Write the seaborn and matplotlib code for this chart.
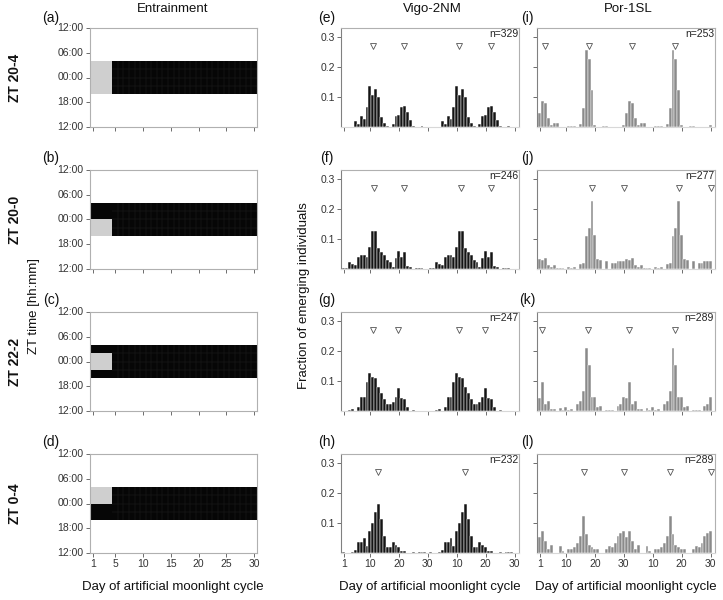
import numpy as np
import pandas as pd
import matplotlib.pyplot as plt
import seaborn as sns
from matplotlib.colors import ListedColormap

# entrainment rows (moonlight window, clock hours)
row_labels = ["ZT 20-4", "ZT 20-0", "ZT 22-2", "ZT 0-4"]
moon_start = [20, 20, 22, 0]
moon_end = [4, 0, 2, 4]
night_start, night_end = 20, 4
moon_days = 4
n_days = 30
time_ticks = ["12:00", "06:00", "00:00", "18:00", "12:00"]
day_ticks = [1, 5, 10, 15, 20, 25, 30]

# fraction of emerging individuals per day of the lunar cycle (days 1-30)
vigo_zt20_4 = [0, 0, 0, 0, 0.021, 0.011, 0.036, 0.028, 0.066, 0.136,
               0.106, 0.127, 0.100, 0.033, 0.015, 0.004, 0, 0.011, 0.036, 0.040,
               0.067, 0.071, 0.049, 0.024, 0.003, 0, 0, 0.003, 0, 0]
vigo_zt20_0 = [0.004, 0.004, 0.022, 0.015, 0.012, 0.040, 0.047, 0.047, 0.040, 0.073,
               0.127, 0.127, 0.070, 0.056, 0.045, 0.030, 0.024, 0.008, 0.036, 0.060,
               0.040, 0.055, 0.010, 0.008, 0, 0.004, 0.004, 0.004, 0, 0]
vigo_zt22_2 = [0, 0, 0.003, 0.006, 0, 0.012, 0.047, 0.047, 0.097, 0.128,
               0.113, 0.110, 0.080, 0.060, 0.040, 0.022, 0.025, 0.030, 0.047, 0.076,
               0.045, 0.040, 0.012, 0, 0.004, 0, 0, 0, 0, 0]
vigo_zt0_4 = [0.004, 0, 0, 0.003, 0.010, 0.038, 0.038, 0.051, 0.024, 0.075,
              0.100, 0.136, 0.162, 0.114, 0.058, 0.020, 0.020, 0.036, 0.027, 0.020,
              0.007, 0.007, 0, 0, 0.004, 0, 0.004, 0.004, 0.004, 0]
por_zt20_4 = [0.047, 0.088, 0.080, 0.030, 0.008, 0.013, 0.013, 0, 0, 0,
              0.004, 0.004, 0.004, 0, 0.011, 0.063, 0.256, 0.227, 0.122, 0.007,
              0, 0, 0.004, 0.004, 0, 0, 0, 0, 0, 0.006]
por_zt20_0 = [0.032, 0.030, 0.036, 0.013, 0.008, 0.013, 0.003, 0.002, 0.002, 0,
              0.006, 0.004, 0.006, 0, 0.018, 0.020, 0.111, 0.137, 0.228, 0.114,
              0.033, 0.031, 0, 0.025, 0, 0.020, 0.020, 0.025, 0.027, 0.025]
por_zt22_2 = [0.045, 0.098, 0.025, 0.034, 0.006, 0.006, 0, 0.010, 0.003, 0.012,
              0.004, 0.006, 0, 0.022, 0.034, 0.067, 0.210, 0.152, 0.047, 0.047,
              0.015, 0.018, 0, 0.003, 0.003, 0.003, 0, 0.018, 0.025, 0.047]
por_zt0_4 = [0.055, 0.074, 0.040, 0.012, 0.028, 0, 0, 0.022, 0.008, 0,
             0.012, 0.012, 0.020, 0.032, 0.057, 0.124, 0.062, 0.028, 0.020, 0.012,
             0.012, 0, 0, 0.012, 0.025, 0.020, 0.035, 0.057, 0.068, 0.075]

vigo_series = [vigo_zt20_4, vigo_zt20_0, vigo_zt22_2, vigo_zt0_4]
por_series = [por_zt20_4, por_zt20_0, por_zt22_2, por_zt0_4]
vigo_n = [329, 246, 247, 232]
por_n = [253, 277, 289, 289]
# expected emergence days (triangles), double plotted
vigo_marks = [[10.9, 21.8, 40.9, 51.8], [11.5, 21.7, 41.5, 51.7],
              [10.9, 19.6, 40.9, 49.6], [12.8, 42.8]]
por_marks = [[2.8, 17.8, 32.8, 47.8], [18.9, 30.1, 48.9, 60.0],
             [1.8, 17.5, 31.8, 47.6], [16.1, 30.1, 46.1, 60.0]]
hist_ticks = [1, 10, 20, 30, 40, 50, 60]
hist_ticklabels = ["1", "10", "20", "30", "10", "20", "30"]

sns.set_theme(style="ticks")
plt.rcParams['font.family'] = ['Liberation Sans', 'DejaVu Sans']

W, H = 723, 600
fig = plt.figure(figsize=(W / 100, H / 100), dpi=100)


def px_axes(x0, y0, x1, y1):
    return fig.add_axes([x0 / W, 1 - y1 / H, (x1 - x0) / W, (y1 - y0) / H])


def rel(h):
    return h if h <= 12 else h - 24


frame_col = "#b0b0b0"
tick_col = "#555555"
text_col = "#333333"
row_top = [28, 170, 312, 454]
row_h = 99


def style_frame(ax, left_col=frame_col, bottom_col=frame_col):
    for name, sp in ax.spines.items():
        sp.set_visible(True)
        sp.set_linewidth(0.8)
        sp.set_color(frame_col)
    ax.spines['left'].set_color(left_col)
    ax.spines['bottom'].set_color(bottom_col)
    ax.tick_params(length=3, width=0.6, color=tick_col, labelsize=7.5,
                   labelcolor=text_col, pad=1.5)


# ---- Entrainment column ----
for r in range(4):
    ax = px_axes(90, row_top[r], 257, row_top[r] + row_h)
    grid = np.zeros((24, n_days))
    for i in range(24):
        t = 12 - i - 0.5
        if rel(night_start) < t < rel(night_end):
            grid[i, :] = 2
            if rel(moon_start[r]) < t < rel(moon_end[r]):
                grid[i, :moon_days] = 1
    cmap = ListedColormap(["#ffffff", "#cfcfcf", "#060606"])
    sns.heatmap(grid, cmap=cmap, vmin=-0.5, vmax=2.5, cbar=False, ax=ax)
    # faint cell grid inside the dark band
    rows = np.where(grid[:, -1] == 2)[0]
    ax.vlines(np.arange(moon_days + 1, n_days), rows[0], rows[-1] + 1,
              color="#242424", lw=0.3)
    ax.hlines(np.arange(rows[0] + 2, rows[-1] + 1, 2), moon_days, n_days,
              color="#242424", lw=0.3)
    ax.set_xlim(0, n_days)
    ax.set_ylim(24, 0)
    ax.set_yticks([0, 6, 12, 18, 24])
    ax.set_yticklabels(time_ticks, rotation=0)
    ax.set_xticks([d - 0.5 for d in day_ticks])
    if r == 3:
        ax.set_xticklabels(day_ticks, rotation=0)
    else:
        ax.set_xticklabels([])
    ax.set_xlabel("")
    ax.set_ylabel("")
    style_frame(ax)
    fig.text(15 / W, 1 - (row_top[r] + row_h / 2) / H, row_labels[r], rotation=90,
             ha="center", va="center", fontsize=10, fontweight="bold", color="#111111")
    fig.text(51 / W, 1 - (row_top[r] - 12 if r else 18) / H, "(" + "abcd"[r] + ")",
             ha="center", va="center", fontsize=10, color="#111111")

# ---- Emergence histograms ----
columns = [(341, 519, vigo_series, vigo_n, vigo_marks, "#141414", "efgh", 327),
           (537, 715, por_series, por_n, por_marks, "#8a8a8a", "ijkl", 527)]
for c, (x0, x1, series, ns, marks, colour, letters, lx) in enumerate(columns):
    for r in range(4):
        ax = px_axes(x0, row_top[r], x1, row_top[r] + row_h)
        df = pd.DataFrame({"day": np.arange(1, 2 * n_days + 1),
                           "frac": np.tile(series[r], 2)})
        sns.barplot(data=df, x="day", y="frac", native_scale=True, color=colour,
                    saturation=1, width=1.0, edgecolor="white", linewidth=0.35,
                    errorbar=None, ax=ax)
        ax.plot(marks[r], [0.27] * len(marks[r]), "v", mfc="white", mec="#555555",
                ms=4.8, mew=0.6, ls="none")
        ax.set_xlim(0, 61.5)
        ax.set_ylim(0, 0.33)
        ax.set_yticks([0.1, 0.2, 0.3])
        ax.set_yticklabels(["0.1", "0.2", "0.3"] if c == 0 else [])
        ax.set_xticks(hist_ticks)
        ax.set_xticklabels(hist_ticklabels if r == 3 else [])
        ax.set_xlabel("")
        ax.set_ylabel("")
        style_frame(ax, left_col="#808080", bottom_col="#d8d8d8")
        ax.text(0.995, 0.985, f"n={ns[r]}", transform=ax.transAxes, ha="right",
                va="top", fontsize=7.5, color="#222222")
        fig.text(lx / W, 1 - (row_top[r] - 12 if r else 18) / H, f"({letters[r]})",
                 ha="center", va="center", fontsize=10, color="#111111")

# ---- titles and labels ----
fig.text(173 / W, 1 - 9 / H, "Entrainment", ha="center", va="center", fontsize=9.5, color="#111111")
fig.text(432 / W, 1 - 9 / H, "Vigo-2NM", ha="center", va="center", fontsize=9.5, color="#111111")
fig.text(628 / W, 1 - 9 / H, "Por-1SL", ha="center", va="center", fontsize=9.5, color="#111111")
fig.text(34 / W, 1 - 306 / H, "ZT time [hh:mm]", rotation=90, ha="center", va="center",
         fontsize=9.5, color="#111111")
fig.text(304 / W, 1 - 296 / H, "Fraction of emerging individuals", rotation=90,
         ha="center", va="center", fontsize=9.5, color="#111111")
for cx in [173, 430, 626]:
    fig.text(cx / W, 1 - 587 / H, "Day of artificial moonlight cycle", ha="center",
             va="center", fontsize=9.5, color="#111111")

fig.savefig("out.png", dpi=100, facecolor="white")
